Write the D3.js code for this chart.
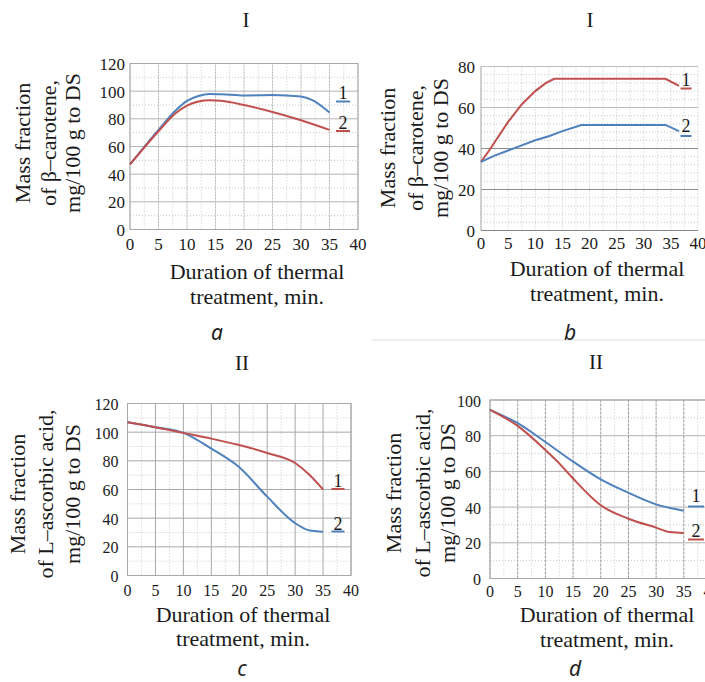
<!DOCTYPE html>
<html>
<head>
<meta charset="utf-8">
<script src="https://cdn.jsdelivr.net/npm/d3@7/dist/d3.min.js"></script>
<style>
  html, body { margin: 0; padding: 0; background: #fff; }
  svg { display: block; }
</style>
</head>
<body>
<svg id="chart" width="705" height="682"></svg>
<script>
// Time axis (min) shared by all four panels
const xTicks = [0, 5, 10, 15, 20, 25, 30, 35, 40];
const yTicksCarotene = [0, 20, 40, 60, 80, 100, 120];
const yTicksCaroteneB = [0, 20, 40, 60, 80];
const yTicksAscorbic = [0, 20, 40, 60, 80, 100, 120];
const yTicksAscorbicD = [0, 20, 40, 60, 80, 100];

// a: β-carotene, mg/100 g DS
const aTime1 = [0, 5, 8, 10, 12, 14, 16, 20, 25, 30, 32, 35];
const aValues1 = [47, 72, 86, 93, 96.5, 98, 97.8, 96.8, 97.3, 96.2, 93.5, 84.5];
const aTime2 = [0, 5, 8, 10, 12, 14, 16, 20, 25, 30, 35];
const aValues2 = [47, 71, 84, 89.5, 92.5, 93.5, 93, 90, 85, 79, 72];

// b: β-carotene, mg/100 g DS
const bTime1 = [0, 1.5, 5, 7.5, 10, 12, 13.5, 34, 36.5];
const bValues1 = [33.5, 39, 53, 61.5, 68, 72, 74, 74, 70.5];
const bTime2 = [0, 2.5, 5, 7.5, 10, 12.5, 15, 18.5, 34, 36.5];
const bValues2 = [33.5, 36.5, 39, 41.5, 44, 46, 48.5, 51.5, 51.5, 48.5];

// c: L-ascorbic acid, mg/100 g DS
const cTime1 = [0, 5, 10, 15, 20, 25, 30, 32.5, 35];
const cValues1 = [107, 103.5, 99.5, 95.5, 91, 85.5, 78.5, 70.5, 60];
const cTime2 = [0, 5, 10, 15, 20, 25, 30, 32.5, 35];
const cValues2 = [107, 103.5, 99.5, 88.5, 75.5, 55, 36.5, 31.5, 30.5];

// d: L-ascorbic acid, mg/100 g DS
const dTime1 = [0, 5, 10, 15, 20, 25, 30, 35];
const dValues1 = [94.5, 87, 76.5, 65.5, 55.5, 48, 41.5, 38];
const dTime2 = [0, 5, 10, 12.5, 15, 20, 25, 30, 32.5, 35];
const dValues2 = [94.5, 85.5, 72, 64.5, 56, 41, 33.5, 28.5, 26, 25.5];

const seriesLabels = ["1", "2"];
const BLUE = "#4f81bd";
const RED = "#c0504d";
const SERIF = '"Liberation Serif", serif';
const SANS = '"Noto Sans", sans-serif';

const svg = d3.select("#chart");

function zip(t, v) { return t.map((d, i) => ({ t: d, v: v[i] })); }

function serifText(sel, size) {
  return sel.style("font-family", SERIF).style("font-size", size + "px").attr("fill", "#1a1a1a");
}

function panel(cfg) {
  const g = svg.append("g");
  const x = d3.scaleLinear().domain([0, 40]).range([cfg.x0, cfg.x1]);
  const y = d3.scaleLinear().domain([0, cfg.yMax]).range([cfg.yBottom, cfg.yTop]);

  // minor grid
  const xMinor = d3.range(0, 40.001, cfg.xMinorStep).filter(v => v % 5 !== 0);
  const yMinor = d3.range(0, cfg.yMax + 0.001, cfg.yMinorStep).filter(v => v % cfg.yMajorStep !== 0);
  g.selectAll(".xm").data(xMinor).join("line")
    .attr("x1", d => x(d)).attr("x2", d => x(d))
    .attr("y1", y(0)).attr("y2", y(cfg.yMax))
    .attr("stroke", "#c8c8c8").attr("stroke-width", 1).attr("stroke-dasharray", "1,2");
  g.selectAll(".ym").data(yMinor).join("line")
    .attr("x1", x(0)).attr("x2", x(40))
    .attr("y1", d => y(d)).attr("y2", d => y(d))
    .attr("stroke", "#c8c8c8").attr("stroke-width", 1).attr("stroke-dasharray", "1,2");

  // major grid
  g.selectAll(".xg").data(xTicks).join("line")
    .attr("x1", d => x(d)).attr("x2", d => x(d))
    .attr("y1", y(0)).attr("y2", y(cfg.yMax))
    .attr("stroke", cfg.xGridColor).attr("stroke-width", 1)
    .attr("stroke-dasharray", cfg.xGridDash || null);
  g.selectAll(".yg").data(cfg.yTicks).join("line")
    .attr("x1", x(0)).attr("x2", x(40))
    .attr("y1", d => y(d)).attr("y2", d => y(d))
    .attr("stroke", d => (cfg.yGridColorFn ? cfg.yGridColorFn(d) : cfg.yGridColor)).attr("stroke-width", 1);

  // frame
  if (cfg.frame) {
    g.append("rect").attr("x", x(0)).attr("y", y(cfg.yMax))
      .attr("width", x(40) - x(0)).attr("height", y(0) - y(cfg.yMax))
      .attr("fill", "none").attr("stroke", "#a8a8a8").attr("stroke-width", 1);
  } else {
    g.append("line").attr("x1", x(0)).attr("x2", x(40)).attr("y1", y(0)).attr("y2", y(0))
      .attr("stroke", "#888");
    g.append("line").attr("x1", x(0)).attr("x2", x(0)).attr("y1", y(0)).attr("y2", y(cfg.yMax))
      .attr("stroke", "#aaa");
  }

  // tick labels
  serifText(g.selectAll(".xt").data(xTicks).join("text"), cfg.tickSize)
    .attr("x", d => x(d)).attr("y", cfg.xLabelY)
    .attr("text-anchor", "middle").attr("dominant-baseline", "central")
    .text(d => d);
  serifText(g.selectAll(".yt").data(cfg.yTicks).join("text"), cfg.tickSize)
    .attr("x", x(0) - cfg.yLabelGap).attr("y", d => y(d) + 1)
    .attr("text-anchor", "end").attr("dominant-baseline", "central")
    .text(d => d);

  // series
  cfg.series.forEach(s => {
    const line = d3.line().x(d => x(d.t)).y(d => y(d.v)).curve(s.curve);
    g.append("path").datum(zip(s.t, s.v))
      .attr("d", line).attr("fill", "none")
      .attr("stroke", s.color).attr("stroke-width", 2);
  });

  // series numbers with underline
  cfg.legend.forEach(l => {
    serifText(g.append("text"), 18).attr("x", l.x).attr("y", l.y)
      .attr("text-anchor", "middle").attr("dominant-baseline", "central")
      .text(l.label);
    g.append("line").attr("x1", l.x - l.w / 2).attr("x2", l.x + l.w / 2)
      .attr("y1", l.uy).attr("y2", l.uy)
      .attr("stroke", l.color).attr("stroke-width", 2);
  });

  // titles
  serifText(g.append("text"), 21).attr("x", cfg.title[1]).attr("y", cfg.title[2])
    .attr("text-anchor", "middle").attr("dominant-baseline", "central")
    .text(cfg.title[0]);

  cfg.yLabel.lines.forEach((txt, i) => {
    serifText(g.append("text"), 22)
      .attr("transform", `translate(${cfg.yLabel.xs[i]},${cfg.yLabel.cy}) rotate(-90)`)
      .attr("text-anchor", "middle").attr("dominant-baseline", "central")
      .text(txt);
  });
  cfg.xLabel.lines.forEach((txt, i) => {
    serifText(g.append("text"), 22).attr("x", cfg.xLabel.cx).attr("y", cfg.xLabel.ys[i])
      .attr("text-anchor", "middle").attr("dominant-baseline", "central")
      .text(txt);
  });
  g.append("text")
    .style("font-family", SANS).style("font-style", "italic").style("font-size", "21px").attr("fill", "#222")
    .attr("x", cfg.letter[1]).attr("y", cfg.letter[2])
    .attr("text-anchor", "middle")
    .text(cfg.letter[0]);
}

const xLabelLines = ["Duration of thermal", "treatment, min."];
const yLabelCarotene = ["Mass fraction", "of β–carotene,", "mg/100 g to DS"];
const yLabelAscorbic = ["Mass fraction", "of L–ascorbic acid,", "mg/100 g to DS"];

// faint separator between upper and lower rows on the right
svg.append("line").attr("x1", 372).attr("x2", 705).attr("y1", 340).attr("y2", 340)
  .attr("stroke", "#f0f0f0").attr("stroke-width", 2);

panel({
  x0: 130, x1: 358, yTop: 63.5, yBottom: 229.5, yMax: 120,
  yTicks: yTicksCarotene, yMajorStep: 20, yMinorStep: 10, xMinorStep: 2.5,
  xGridColor: "#b4b4b4", xGridDash: "2,1", yGridColor: "#b4b4b4", frame: true,
  tickSize: 17, xLabelY: 244, yLabelGap: 5,
  series: [
    { t: aTime1, v: aValues1, color: BLUE, curve: d3.curveMonotoneX },
    { t: aTime2, v: aValues2, color: RED, curve: d3.curveMonotoneX }
  ],
  legend: [
    { label: seriesLabels[0], x: 343, y: 93, uy: 101.5, w: 14, color: BLUE },
    { label: seriesLabels[1], x: 343, y: 123, uy: 131, w: 14, color: RED }
  ],
  title: ["I", 246, 20],
  yLabel: { lines: yLabelCarotene, xs: [22, 48, 72], cy: 143 },
  xLabel: { lines: xLabelLines, cx: 257, ys: [271, 296] },
  letter: ["a", 217, 340]
});

panel({
  x0: 481, x1: 698, yTop: 66.5, yBottom: 230.5, yMax: 80,
  yTicks: yTicksCaroteneB, yMajorStep: 20, yMinorStep: 4, xMinorStep: 2.5,
  xGridColor: "#c4c4c4", xGridDash: "1,2",
  yGridColorFn: d => (d === 20 || d === 40 ? "#8c8c8c" : "#bdbdbd"),
  frame: false,
  tickSize: 17, xLabelY: 243, yLabelGap: 6,
  series: [
    { t: bTime1, v: bValues1, color: RED, curve: d3.curveLinear },
    { t: bTime2, v: bValues2, color: BLUE, curve: d3.curveLinear }
  ],
  legend: [
    { label: seriesLabels[0], x: 686, y: 80, uy: 88.5, w: 11, color: RED },
    { label: seriesLabels[1], x: 686, y: 126, uy: 136, w: 11, color: BLUE }
  ],
  title: ["I", 590, 20],
  yLabel: { lines: yLabelCarotene, xs: [387, 415, 440], cy: 148 },
  xLabel: { lines: xLabelLines, cx: 597, ys: [268, 293] },
  letter: ["b", 570, 340]
});

panel({
  x0: 127.5, x1: 351, yTop: 403.5, yBottom: 575.5, yMax: 120,
  yTicks: yTicksAscorbic, yMajorStep: 20, yMinorStep: 10, xMinorStep: 2.5,
  xGridColor: "#a8a8a8", yGridColor: "#a8a8a8", frame: true,
  tickSize: 16, xLabelY: 590, yLabelGap: 9,
  series: [
    { t: cTime2, v: cValues2, color: BLUE, curve: d3.curveMonotoneX },
    { t: cTime1, v: cValues1, color: RED, curve: d3.curveMonotoneX }
  ],
  legend: [
    { label: seriesLabels[0], x: 338, y: 481, uy: 489, w: 13, color: RED },
    { label: seriesLabels[1], x: 338, y: 524, uy: 531.5, w: 13, color: BLUE }
  ],
  title: ["II", 242, 363],
  yLabel: { lines: yLabelAscorbic, xs: [17, 45, 72], cy: 494 },
  xLabel: { lines: xLabelLines, cx: 243, ys: [614, 638] },
  letter: ["c", 242, 676]
});

panel({
  x0: 490, x1: 711.5, yTop: 400, yBottom: 578.5, yMax: 100,
  yTicks: yTicksAscorbicD, yMajorStep: 20, yMinorStep: 10, xMinorStep: 2.5,
  xGridColor: "#9a9a9a", xGridDash: "3,1", yGridColor: "#b0b0b0", frame: true,
  tickSize: 16, xLabelY: 591, yLabelGap: 9,
  series: [
    { t: dTime1, v: dValues1, color: BLUE, curve: d3.curveMonotoneX },
    { t: dTime2, v: dValues2, color: RED, curve: d3.curveMonotoneX }
  ],
  legend: [
    { label: seriesLabels[0], x: 696, y: 496, uy: 506.5, w: 16, color: BLUE },
    { label: seriesLabels[1], x: 696, y: 531, uy: 539.5, w: 16, color: RED }
  ],
  title: ["II", 596, 362],
  yLabel: { lines: yLabelAscorbic, xs: [393, 422, 447], cy: 493 },
  xLabel: { lines: xLabelLines, cx: 607, ys: [614, 639] },
  letter: ["d", 575, 676]
});
</script>
</body>
</html>
